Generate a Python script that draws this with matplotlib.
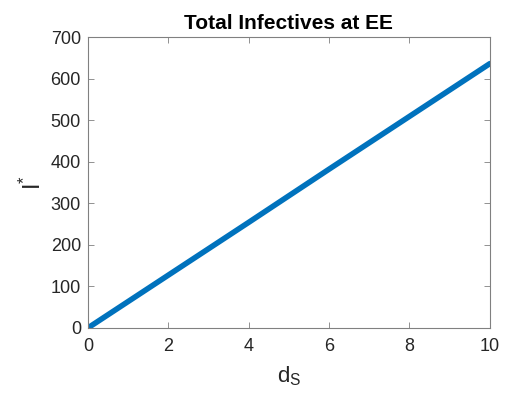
import matplotlib
matplotlib.use("Agg")
import matplotlib.pyplot as plt

# Total infectives at the endemic equilibrium as a function of d_S
d_S = [0, 2, 4, 6, 8, 10]
I_star = [0, 127, 254, 382, 509, 636]

x_ticks = [0, 2, 4, 6, 8, 10]
y_ticks = [0, 100, 200, 300, 400, 500, 600, 700]

plt.rcParams['font.family'] = ['Liberation Sans', 'DejaVu Sans']

fig = plt.figure(figsize=(5.05, 3.98), dpi=100)
ax = fig.add_axes([0.174, 0.176, 0.796, 0.731])

ax.plot(d_S, I_star, color='#0072BD', linewidth=4, solid_capstyle='round')

ax.set_xlim(0, 10)
ax.set_ylim(0, 700)
ax.set_xticks(x_ticks)
ax.set_yticks(y_ticks)

axis_color = '#262626'
for s in ax.spines.values():
    s.set_color('#808080')
    s.set_linewidth(0.8)
ax.tick_params(direction='in', length=4, width=0.6, color='#808080',
               labelsize=13, labelcolor=axis_color, top=True, right=True)
ax.tick_params(axis='x', pad=7)
ax.tick_params(axis='y', pad=5)

ax.set_title('Total Infectives at EE', fontsize=15, fontweight='bold', color='black', pad=6)
ax.set_xlabel(r'd$_\mathregular{S}$', fontsize=16, color=axis_color, labelpad=7)
ax.set_ylabel(r'I$^\mathregular{*}$', fontsize=17, color=axis_color, labelpad=3)

fig.savefig('out.png', dpi=100, facecolor='white')
